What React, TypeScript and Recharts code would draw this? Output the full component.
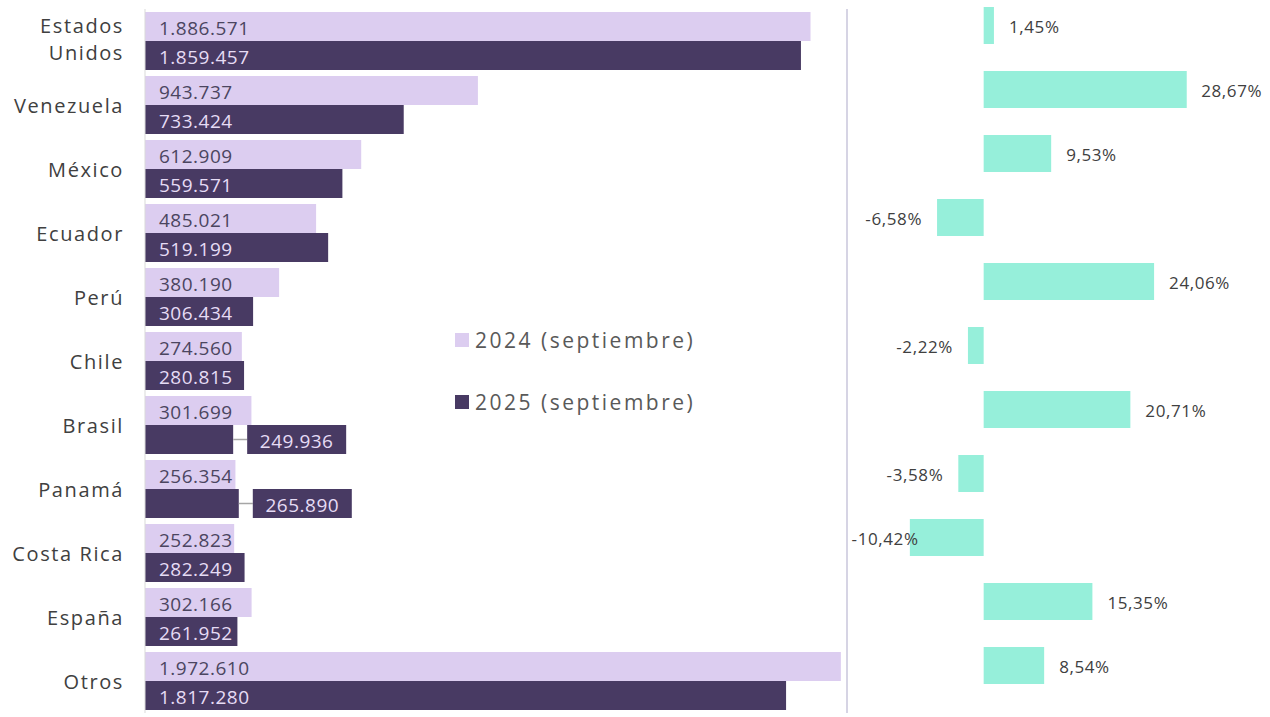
import { BarChart, Bar, XAxis, YAxis, LabelList, ReferenceLine } from 'recharts';

const countries = ['Estados Unidos', 'Venezuela', 'México', 'Ecuador', 'Perú', 'Chile', 'Brasil', 'Panamá', 'Costa Rica', 'España', 'Otros'];
const sep2024 = [1886571, 943737, 612909, 485021, 380190, 274560, 301699, 256354, 252823, 302166, 1972610];
const sep2025 = [1859457, 733424, 559571, 519199, 306434, 280815, 249936, 265890, 282249, 261952, 1817280];
const change = [1.45, 28.67, 9.53, -6.58, 24.06, -2.22, 20.71, -3.58, -10.42, 15.35, 8.54];
const seriesNames = ['2024 (septiembre)', '2025 (septiembre)'];
// dark labels that sit outside their bar, in a box with a leader line
const calloutDark = ['Brasil', 'Panamá'];

const LIGHT = '#dccdf0';
const DARK = '#483a63';
const TEAL = '#96efda';
const FONT = '"Open Sans", sans-serif';
const X_MAX = 1990000;

const data = countries.map((name, i) => ({ name, y2024: sep2024[i], y2025: sep2025[i], pct: change[i] }));

const fmtThousands = (v: number) => v.toString().replace(/\B(?=(\d{3})+(?!\d))/g, '.');
const fmtPct = (v: number) => v.toFixed(2).replace('.', ',') + '%';

function CountryTick(props: any) {
  const { y, payload } = props;
  const words = String(payload.value) === 'Estados Unidos' ? ['Estados', 'Unidos'] : [String(payload.value)];
  const lineH = 27;
  const y0 = y - ((words.length - 1) * lineH) / 2 - (words.length > 1 ? 3 : 0);
  return (
    <text x={124} y={y0} textAnchor="end" fill="#404040" fontSize={20} fontFamily={FONT} letterSpacing={1.6} dominantBaseline="central">
      {words.map((w, i) => (
        <tspan key={w} x={124} y={y0 + i * lineH}>{w}</tspan>
      ))}
    </text>
  );
}

function LightLabel(props: any) {
  const { x, y, height, value } = props;
  return (
    <text x={x + 14} y={y + height / 2 + 1} fill="#4b4560" fontSize={19} fontFamily={FONT} letterSpacing={0.5} dominantBaseline="central">
      {fmtThousands(value)}
    </text>
  );
}

function DarkLabel(props: any) {
  const { x, y, width, height, value, index } = props;
  const text = fmtThousands(value);
  if (calloutDark.includes(countries[index])) {
    const boxX = x + width + 14;
    const boxW = 99;
    return (
      <g>
        <line x1={x + width} x2={boxX} y1={y + height / 2} y2={y + height / 2} stroke="#a6a6a6" strokeWidth={1.5} />
        <rect x={boxX} y={y} width={boxW} height={height} fill={DARK} />
        <text x={boxX + boxW / 2} y={y + height / 2 + 1} textAnchor="middle" fill="#e6dcf5" fontSize={19} fontFamily={FONT} letterSpacing={0.5} dominantBaseline="central">
          {text}
        </text>
      </g>
    );
  }
  return (
    <text x={x + 14} y={y + height / 2 + 1} fill="#e6dcf5" fontSize={19} fontFamily={FONT} letterSpacing={0.5} dominantBaseline="central">
      {text}
    </text>
  );
}

function PctLabel(props: any) {
  const { x, y, width, height, value } = props;
  const left = Math.min(x, x + width);
  const right = Math.max(x, x + width);
  const text = fmtPct(value);
  const cy = y + height / 2 + 1;
  const estWidth = text.length * 9.8;
  if (value >= 0) {
    // keep the label inside the chart on the right side
    const start = Math.min(right + 15, 418 - estWidth);
    return (
      <text x={start} y={cy} fill="#404040" fontSize={17} fontFamily={FONT} letterSpacing={0.6} dominantBaseline="central">
        {text}
      </text>
    );
  }
  // keep the label inside the chart on the left side
  const end = Math.max(left - 15, 8 + estWidth);
  return (
    <text x={end} y={cy} textAnchor="end" fill="#404040" fontSize={17} fontFamily={FONT} letterSpacing={0.6} dominantBaseline="central">
      {text}
    </text>
  );
}

function LegendBox() {
  const colors = [LIGHT, DARK];
  return (
    <div style={{ fontFamily: FONT }}>
      {seriesNames.map((label, i) => (
        <div key={label} style={{ display: 'flex', alignItems: 'center', height: 30, marginTop: i === 0 ? 0 : 32 }}>
          <span style={{ width: 14, height: 14, background: colors[i], display: 'inline-block', marginRight: 6 }} />
          <span style={{ fontSize: 21, color: '#595959', letterSpacing: 2.5 }}>{label}</span>
        </div>
      ))}
    </div>
  );
}

export default function App() {
  return (
    <div style={{ position: 'absolute', left: 0, top: 0, width: 1270, height: 717, background: '#fff', overflow: 'hidden' }}>
      <div style={{ position: 'absolute', left: 0, top: 0 }}>
        <BarChart width={850} height={717} data={data} layout="vertical" margin={{ top: 9, right: 3, bottom: 4, left: 0 }} barGap={0}>
          <XAxis type="number" domain={[0, X_MAX]} hide />
          <YAxis type="category" dataKey="name" width={145} tickLine={false} axisLine={{ stroke: '#d9d9d9' }} tick={<CountryTick />} interval={0} />
          <ReferenceLine x={X_MAX} stroke="#d6d4e4" strokeWidth={2} />
          <Bar dataKey="y2024" name={seriesNames[0]} fill={LIGHT} barSize={29} isAnimationActive={false}>
            <LabelList dataKey="y2024" content={<LightLabel />} />
          </Bar>
          <Bar dataKey="y2025" name={seriesNames[1]} fill={DARK} barSize={29} isAnimationActive={false}>
            <LabelList dataKey="y2025" content={<DarkLabel />} />
          </Bar>
        </BarChart>
      </div>
      <div style={{ position: 'absolute', left: 455, top: 325 }}>
        <LegendBox />
      </div>
      <div style={{ position: 'absolute', left: 842, top: -7 }}>
        <BarChart width={428} height={704} data={data} layout="vertical" margin={{ top: 0, right: 3, bottom: 0, left: 0 }}>
          <XAxis type="number" domain={[-20, 40]} hide />
          <YAxis type="category" dataKey="name" hide />
          <Bar dataKey="pct" fill={TEAL} barSize={37} isAnimationActive={false}>
            <LabelList dataKey="pct" content={<PctLabel />} />
          </Bar>
        </BarChart>
      </div>
    </div>
  );
}
